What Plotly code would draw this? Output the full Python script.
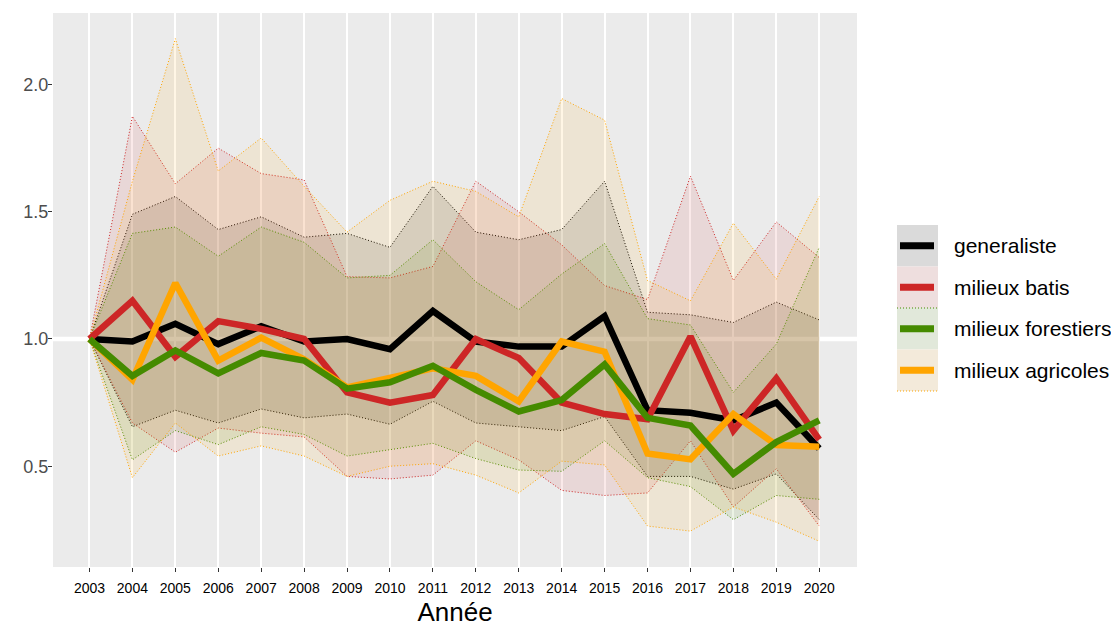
import plotly.graph_objects as go

years = list(range(2003, 2021))
year_labels = [str(y) for y in years]

series_names = ["generaliste", "milieux batis", "milieux forestiers", "milieux agricoles"]

gen_mean = [1.00, 0.99, 1.06, 0.98, 1.05, 0.99, 1.00, 0.96, 1.11, 0.99, 0.97, 0.97, 1.09, 0.72, 0.71, 0.68, 0.75, 0.57]
gen_upper = [1.00, 1.49, 1.56, 1.43, 1.48, 1.40, 1.415, 1.36, 1.60, 1.42, 1.39, 1.43, 1.62, 1.105, 1.095, 1.065, 1.145, 1.075]
gen_lower = [1.00, 0.655, 0.72, 0.67, 0.725, 0.69, 0.705, 0.665, 0.755, 0.67, 0.655, 0.64, 0.695, 0.46, 0.46, 0.41, 0.47, 0.29]

bat_mean = [1.00, 1.15, 0.93, 1.07, 1.04, 1.00, 0.79, 0.75, 0.78, 1.00, 0.925, 0.75, 0.705, 0.685, 1.01, 0.64, 0.845, 0.605]
bat_upper = [1.00, 1.875, 1.61, 1.75, 1.65, 1.625, 1.245, 1.24, 1.285, 1.62, 1.50, 1.37, 1.21, 1.155, 1.64, 1.23, 1.46, 1.32]
bat_lower = [1.00, 0.67, 0.555, 0.65, 0.63, 0.615, 0.46, 0.45, 0.465, 0.60, 0.525, 0.405, 0.385, 0.395, 0.60, 0.34, 0.49, 0.265]

for_mean = [1.00, 0.855, 0.955, 0.865, 0.945, 0.915, 0.805, 0.83, 0.895, 0.80, 0.715, 0.76, 0.90, 0.69, 0.66, 0.47, 0.595, 0.68]
for_upper = [1.00, 1.415, 1.44, 1.325, 1.44, 1.38, 1.24, 1.25, 1.39, 1.225, 1.115, 1.255, 1.375, 1.08, 1.055, 0.79, 0.98, 1.36]
for_lower = [1.00, 0.525, 0.64, 0.585, 0.655, 0.625, 0.54, 0.565, 0.59, 0.53, 0.485, 0.48, 0.60, 0.455, 0.42, 0.29, 0.385, 0.37]

agr_mean = [1.00, 0.84, 1.22, 0.915, 1.005, 0.92, 0.81, 0.845, 0.885, 0.855, 0.755, 0.99, 0.95, 0.55, 0.527, 0.705, 0.583, 0.577]
agr_upper = [1.00, 1.62, 2.18, 1.66, 1.79, 1.60, 1.42, 1.545, 1.62, 1.58, 1.48, 1.945, 1.86, 1.23, 1.15, 1.455, 1.235, 1.56]
agr_lower = [1.00, 0.455, 0.67, 0.54, 0.58, 0.54, 0.46, 0.50, 0.51, 0.465, 0.395, 0.52, 0.505, 0.265, 0.245, 0.34, 0.28, 0.205]

y_ticks = [0.5, 1.0, 1.5, 2.0]
y_tick_labels = ["0.5", "1.0", "1.5", "2.0"]

colors = ["#000000", "#CD2626", "#458B00", "#FFA500"]
fills = ["rgba(0,0,0,0.1)", "rgba(205,38,38,0.1)", "rgba(69,139,0,0.1)", "rgba(255,165,0,0.1)"]
key_bg = ["#DADADA", "#EEDEDE", "#E1E8DA", "#F3EADA"]

means = [gen_mean, bat_mean, for_mean, agr_mean]
uppers = [gen_upper, bat_upper, for_upper, agr_upper]
lowers = [gen_lower, bat_lower, for_lower, agr_lower]

DOT = "1px,2px"

fig = go.Figure()

# ribbons
for i in range(4):
    fig.add_trace(go.Scatter(x=years, y=uppers[i], mode="lines",
                             line=dict(color=colors[i], width=1, dash=DOT),
                             showlegend=False, hoverinfo="skip"))
    fig.add_trace(go.Scatter(x=years, y=lowers[i], mode="lines",
                             line=dict(color=colors[i], width=1, dash=DOT),
                             fill="tonexty", fillcolor=fills[i],
                             showlegend=False, hoverinfo="skip"))

# mean lines
for i in [0, 1, 3, 2]:
    fig.add_trace(go.Scatter(x=years, y=means[i], mode="lines",
                             line=dict(color=colors[i], width=6.5),
                             name=series_names[i], showlegend=False))

# panel geometry (px)
W, H = 1111, 628
L, R, T, B = 53, 857, 13, 567

def px(xp):
    return (xp - L) / (R - L)

def py(yp):
    return (B - yp) / (B - T)

shapes = [dict(type="line", xref="paper", yref="y", x0=0, x1=1, y0=1, y1=1,
               line=dict(color="white", width=4.5), layer="below")]
annotations = []

# custom legend
key_x0, key_x1 = 897, 938
row_top = 225
row_h = 41.5
for i in range(4):
    y0 = row_top + i * row_h
    y1 = y0 + row_h
    ym = (y0 + y1) / 2
    shapes.append(dict(type="rect", xref="paper", yref="paper",
                       x0=px(key_x0), x1=px(key_x1), y0=py(y1), y1=py(y0),
                       fillcolor=key_bg[i], line=dict(width=0)))
    shapes.append(dict(type="line", xref="paper", yref="paper",
                       x0=px(900), x1=px(934), y0=py(ym), y1=py(ym),
                       line=dict(color=colors[i], width=7)))
    annotations.append(dict(xref="paper", yref="paper", x=px(952), y=py(ym),
                            text=series_names[i], showarrow=False,
                            xanchor="left", yanchor="middle",
                            font=dict(size=21, color="black", family="Liberation Sans, Arial, sans-serif")))
# dotted outlines seen in key
shapes.append(dict(type="line", xref="paper", yref="paper",
                   x0=px(key_x0), x1=px(key_x1), y0=py(row_top + 2 * row_h), y1=py(row_top + 2 * row_h),
                   line=dict(color=colors[2], width=1, dash=DOT)))
shapes.append(dict(type="line", xref="paper", yref="paper",
                   x0=px(key_x0), x1=px(key_x1), y0=py(row_top + 4 * row_h), y1=py(row_top + 4 * row_h),
                   line=dict(color=colors[3], width=1, dash=DOT)))

fig.update_layout(
    width=W, height=H,
    margin=dict(l=L, r=W - R, t=T, b=H - B),
    paper_bgcolor="white",
    plot_bgcolor="#EBEBEB",
    font=dict(family="Liberation Sans, Arial, sans-serif"),
    shapes=shapes,
    annotations=annotations,
    showlegend=False,
    xaxis=dict(range=[2002.15, 2020.88], tickmode="array", tickvals=years, ticktext=year_labels,
               showgrid=True, gridcolor="white", gridwidth=1.8, zeroline=False,
               ticks="outside", ticklen=4, tickcolor="#333333", tickwidth=1,
               tickfont=dict(size=14, color="black"), ticklabelstandoff=4,
               title=dict(text="Année", font=dict(size=26, color="black"), standoff=8),
               showline=False, automargin=False),
    yaxis=dict(range=[0.104, 2.281], tickmode="array", tickvals=y_ticks, ticktext=y_tick_labels,
               showgrid=False, zeroline=False,
               ticks="outside", ticklen=4, tickcolor="#333333", tickwidth=1,
               tickfont=dict(size=18, color="#4D4D4D"), ticklabelstandoff=-4,
               showline=False, automargin=False),
)

fig.write_html("out.html", config={"displayModeBar": False},
               post_script="document.body.style.margin='0';document.body.style.padding='0';")
